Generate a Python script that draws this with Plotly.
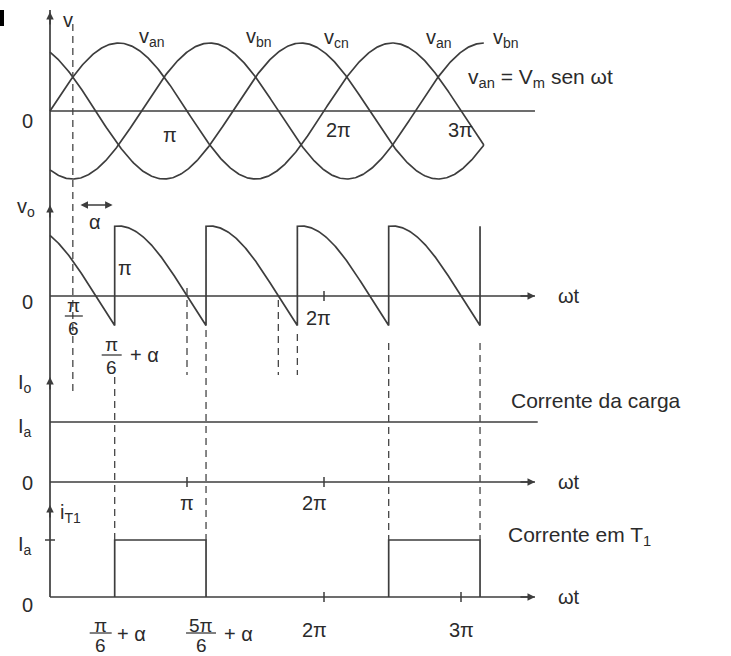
import numpy as np
import plotly.graph_objects as go

# ---- quantities shown in the figure ----
Vm = 1.0                                  # phase-voltage amplitude
alpha_deg = 55.0                          # firing delay angle
phase_names = ["an", "bn", "cn"]
phase_shift = [0.0, -2 * np.pi / 3, 2 * np.pi / 3]
theta_end_src = 19 * np.pi / 6            # extent of the source-voltage sketch
Ia = 1.0                                  # constant load current

# ---- page geometry ----
W, H = 731, 656
X0_PX, PI_PX = 50, 137                    # origin and length of pi on screen
LINE = "#3d3d3d"
TXT = "#2b2b2b"
FONT = "Liberation Sans, Arial, sans-serif"

alpha = np.deg2rad(alpha_deg)


def v(name, th):
    return Vm * np.sin(th + phase_shift[phase_names.index(name)])


def py(p):
    return 1 - p / H


def yrange(zero_px, unit_px):
    return [-(H - zero_px) / unit_px, zero_px / unit_px]


fig = go.Figure()

# ---- source voltages ----
th = np.linspace(0, theta_end_src, 500)
for name in phase_names:
    fig.add_trace(go.Scatter(x=th, y=v(name, th), mode="lines",
                             line=dict(color=LINE, width=1.7), yaxis="y"))

# ---- output voltage v_o ----
fire = [np.pi / 6 + alpha + k * 2 * np.pi / 3 for k in range(5)]
seq = ["an", "bn", "cn", "an"]
xs, ys = [], []
t0 = np.linspace(0, fire[0], 80)
xs += list(t0); ys += list(v("cn", t0))
for k, name in enumerate(seq):
    t = np.linspace(fire[k], fire[k + 1], 120)
    xs += list(t); ys += list(v(name, t))
xs.append(fire[4]); ys.append(v("bn", fire[4]))
fig.add_trace(go.Scatter(x=xs, y=ys, mode="lines",
                         line=dict(color=LINE, width=1.7), yaxis="y2"))

# ---- load current ----
AXIS_END = 3.54 * np.pi
fig.add_trace(go.Scatter(x=[0, 3.56 * np.pi], y=[Ia, Ia], mode="lines",
                         line=dict(color=LINE, width=1.7), yaxis="y3"))

# ---- thyristor T1 current ----
on_intervals = [(fire[0], fire[1]), (fire[3], fire[4])]
px_, py_ = [], []
for a, b in on_intervals:
    px_ += [a, a, b, b, None]
    py_ += [0, Ia, Ia, 0, None]
fig.add_trace(go.Scatter(x=px_, y=py_, mode="lines",
                         line=dict(color=LINE, width=1.7), yaxis="y4"))

shapes = []
ann = []

# horizontal zero lines
shapes.append(dict(type="line", xref="x", yref="y", x0=0, x1=AXIS_END, y0=0, y1=0,
                   line=dict(color=LINE, width=1.7)))
for ax_name in ["y2", "y3", "y4"]:
    shapes.append(dict(type="line", xref="x", yref=ax_name, x0=0, x1=AXIS_END,
                       y0=0, y1=0, line=dict(color=LINE, width=1.7)))
    ann.append(dict(x=AXIS_END, y=0, xref="x", yref=ax_name, ax=-16, ay=0,
                    text="", showarrow=True, arrowhead=2, arrowsize=1,
                    arrowwidth=1.5, arrowcolor=LINE, standoff=0))
    ann.append(dict(x=AXIS_END, y=0, xref="x", yref=ax_name, xshift=34,
                    text="ωt", showarrow=False,
                    font=dict(family=FONT, size=20, color=TXT)))

# vertical axis with arrowheads for each quantity
shapes.append(dict(type="line", xref="x", yref="paper", x0=0, x1=0,
                   y0=py(10), y1=py(597), line=dict(color=LINE, width=1.7)))
for p in [12, 205, 377, 505]:
    ann.append(dict(x=0, y=py(p), xref="x", yref="paper", ax=0, ay=14, text="",
                    showarrow=True, arrowhead=2, arrowsize=1, arrowwidth=1.5,
                    arrowcolor=LINE, standoff=0))


# ticks
def xtick(xv, yax):
    shapes.append(dict(type="line", xref="x", yref=yax, x0=xv, x1=xv,
                       ysizemode="pixel", yanchor=0, y0=-5, y1=5,
                       line=dict(color=LINE, width=1.5)))


xtick(2 * np.pi, "y2")
xtick(np.pi, "y3"); xtick(2 * np.pi, "y3")
xtick(2 * np.pi, "y4"); xtick(3 * np.pi, "y4")
shapes.append(dict(type="line", xref="x", yref="y4", xsizemode="pixel", xanchor=0,
                   x0=-5, x1=5, y0=Ia, y1=Ia, line=dict(color=LINE, width=1.5)))

# dashed guides
DASH = dict(color="#454545", width=1.3, dash="7px,5px")
guides = [
    (np.pi / 6, 24, 393),
    (fire[0], 377, 540),
    (fire[1], 330, 540),
    (np.pi, 288, 375),
    (5 * np.pi / 3, 300, 375),
    (fire[2], 334, 375),
    (fire[3], 343, 540),
    (fire[4], 343, 540),
]
for xv, p0, p1 in guides:
    shapes.append(dict(type="line", xref="x", yref="paper", x0=xv, x1=xv,
                       y0=py(p0), y1=py(p1), line=DASH))

# small mark at the top-left edge
shapes.append(dict(type="rect", xref="paper", yref="paper", x0=0, x1=4 / W,
                   y0=py(26), y1=py(10), fillcolor="black", line=dict(width=0)))


def label(text, xpx=None, ypx=0, xd=None, xshift=0, size=20, anchor="center"):
    d = dict(text=text, showarrow=False, yref="paper", y=py(ypx),
             xanchor=anchor, yanchor="middle",
             font=dict(family=FONT, size=size, color=TXT))
    if xd is None:
        d.update(xref="paper", x=xpx / W)
    else:
        d.update(xref="x", x=xd, xshift=xshift)
    ann.append(d)


def frac(num, den, xd, xshift, y_num, y_bar, y_den, half_w):
    label(num, xd=xd, xshift=xshift, ypx=y_num, size=19)
    label(den, xd=xd, xshift=xshift, ypx=y_den, size=19)
    shapes.append(dict(type="line", xref="x", yref="paper", xsizemode="pixel",
                       xanchor=xd, x0=xshift - half_w, x1=xshift + half_w,
                       y0=py(y_bar), y1=py(y_bar), line=dict(color=TXT, width=1.2)))


# top panel
label("v", xpx=68, ypx=20)
label("v<sub>an</sub>", xpx=152, ypx=37)
label("v<sub>bn</sub>", xpx=259, ypx=37)
label("v<sub>cn</sub>", xpx=336, ypx=38)
label("v<sub>an</sub>", xpx=439, ypx=38)
label("v<sub>bn</sub>", xpx=506, ypx=38)
label("v<sub>an</sub> = V<sub>m</sub> sen ωt", xpx=466, ypx=78, anchor="left", size=21)
label("0", xpx=27, ypx=121)
label("π", xd=np.pi, xshift=-17, ypx=135)
label("2π", xd=2 * np.pi, xshift=14, ypx=130)
label("3π", xd=3 * np.pi, xshift=-1, ypx=130)

# output-voltage panel
label("v<sub>o</sub>", xpx=26, ypx=207)
label("0", xpx=27, ypx=302)
label("α", xpx=95, ypx=222)
ann.append(dict(x=fire[0] - 0.015 * np.pi, y=py(205), xref="x", yref="paper",
                ax=np.pi / 6 + 0.045 * np.pi, ay=0, axref="x", ayref="pixel",
                text="", showarrow=True, arrowhead=2, arrowside="end+start",
                arrowsize=1, arrowwidth=1.5, arrowcolor=LINE, standoff=0,
                startstandoff=0))
frac("π", "6", np.pi / 6, 1, 305, 316, 328, 9)
label("π", xd=fire[0], xshift=10, ypx=268)
frac("π", "6", fire[0], -3, 344, 355, 367, 10)
label("+ α", xd=fire[0], xshift=30, ypx=355)
label("2π", xd=2 * np.pi, xshift=-6, ypx=318)

# load-current panel
label("I<sub>o</sub>", xpx=25, ypx=383)
label("I<sub>a</sub>", xpx=25, ypx=427)
label("0", xpx=27, ypx=483)
label("π", xd=np.pi, ypx=503)
label("2π", xd=2 * np.pi, xshift=-10, ypx=503)
label("Corrente da carga", xpx=509, ypx=400, anchor="left", size=21)

# thyristor-current panel
label("i<sub>T1</sub>", xpx=70, ypx=513)
label("I<sub>a</sub>", xpx=25, ypx=545)
label("0", xpx=27, ypx=605)
frac("π", "6", fire[0], -14, 625, 633, 645, 11)
label("+ α", xd=fire[0], xshift=17, ypx=634)
frac("5π", "6", fire[1], -5, 625, 633, 645, 15)
label("+ α", xd=fire[1], xshift=32, ypx=634)
label("2π", xd=2 * np.pi, xshift=-10, ypx=630)
label("3π", xd=3 * np.pi, ypx=630)
label("Corrente em T<sub>1</sub>", xpx=506, ypx=536, anchor="left", size=21)

hidden = dict(visible=False, showgrid=False, zeroline=False, fixedrange=True)
fig.update_layout(
    width=W, height=H, margin=dict(l=0, r=0, t=0, b=0),
    paper_bgcolor="white", plot_bgcolor="white", showlegend=False,
    xaxis=dict(range=[-X0_PX / PI_PX * np.pi, (W - X0_PX) / PI_PX * np.pi], **hidden),
    yaxis=dict(range=yrange(111, 68), **hidden),
    yaxis2=dict(range=yrange(296, 70), overlaying="y", **hidden),
    yaxis3=dict(range=yrange(482, 60), overlaying="y", **hidden),
    yaxis4=dict(range=yrange(597, 57), overlaying="y", **hidden),
    shapes=shapes, annotations=ann,
)

fig.write_html("out.html")
